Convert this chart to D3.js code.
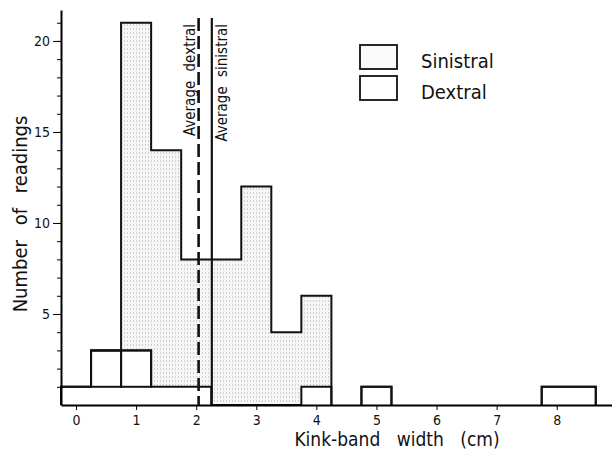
<!DOCTYPE html>
<html>
<head>
<meta charset="utf-8">
<script src="https://cdn.jsdelivr.net/npm/d3@7"></script>
<style>
  body { margin: 0; background: #fff; }
  svg { display: block; }
  text { font-family: "DejaVu Sans Condensed", "DejaVu Sans", sans-serif; fill: #111; }
</style>
</head>
<body>
<svg width="612" height="453"></svg>
<script>
// bins of kink-band width (cm)
const binStart = [-0.25, 0.25, 0.75, 1.25, 1.75, 2.25, 2.75, 3.25, 3.75, 4.75, 7.75];
const binEnd = [0.25, 0.75, 1.25, 1.75, 2.25, 2.75, 3.25, 3.75, 4.25, 5.25, 8.65];
const dextral = [1, 3, 3, 1, 1, 0, 0, 0, 1, 1, 1];
const sinistral = [0, 0, 18, 13, 7, 8, 12, 4, 5, 0, 0];
const avgDextral = 2.04;
const avgSinistral = 2.26;
const xTicks = [0, 1, 2, 3, 4, 5, 6, 7, 8];
const yTicks = [5, 10, 15, 20];
const legendLabels = ["Sinistral", "Dextral"];

let svg = d3.select("svg");

let x = d3.scaleLinear().domain([-0.25, 8.92]).range([61, 612]);
let y = d3.scaleLinear().domain([0, 21.7]).range([405, 10]);

// stipple for the sinistral part
let defs = svg.append("defs");
let pat = defs.append("pattern")
  .attr("id", "dots")
  .attr("width", 3)
  .attr("height", 4)
  .attr("patternUnits", "userSpaceOnUse");
pat.append("rect").attr("width", 3).attr("height", 4).attr("fill", "#f6f6f6");
pat.append("rect").attr("x", 1).attr("y", 0).attr("width", 1).attr("height", 2).attr("fill", "#cfcfcf");

let bins = binStart.map((s, i) => ({
  x0: s,
  x1: binEnd[i],
  d: dextral[i],
  t: dextral[i] + sinistral[i],
}));

// group contiguous bins so each group is one step outline
let groups = [];
bins.forEach((b) => {
  let last = groups[groups.length - 1];
  if (last && Math.abs(last[last.length - 1].x1 - b.x0) < 1e-9) last.push(b);
  else groups.push([b]);
});

function stepPoints(g, key) {
  let pts = [{ x: g[0].x0, lo: 0, v: 0 }];
  g.forEach((b) => pts.push({ x: b.x0, lo: b.d, v: b[key] }));
  pts.push({ x: g[g.length - 1].x1, lo: 0, v: 0 });
  return pts;
}

let area = d3.area()
  .curve(d3.curveStepAfter)
  .x((p) => x(p.x))
  .y0((p) => y(p.lo))
  .y1((p) => y(p.v));

let line = d3.line()
  .curve(d3.curveStepAfter)
  .x((p) => x(p.x))
  .y((p) => y(p.v));

let hist = svg.append("g");

groups.forEach((g) => {
  let tot = stepPoints(g, "t");
  hist.append("path").attr("d", area(tot)).attr("fill", "url(#dots)");
  let dex = stepPoints(g, "d").map((p) => ({ x: p.x, lo: 0, v: p.v }));
  hist.append("path").attr("d", area(dex)).attr("fill", "#fff");
  hist.append("path").attr("d", line(dex))
    .attr("fill", "none").attr("stroke", "#111").attr("stroke-width", 2);
  hist.append("path").attr("d", line(tot))
    .attr("fill", "none").attr("stroke", "#111").attr("stroke-width", 2);
});

// dextral bins above one reading are boxed on top of the first layer
hist.selectAll("rect.upper")
  .data(bins.filter((b) => b.d > 1))
  .join("rect")
  .attr("class", "upper")
  .attr("x", (b) => x(b.x0))
  .attr("y", (b) => y(b.d))
  .attr("width", (b) => x(b.x1) - x(b.x0))
  .attr("height", (b) => y(1) - y(b.d))
  .attr("fill", "none")
  .attr("stroke", "#111")
  .attr("stroke-width", 2);

// axes
let xAxis = svg.append("g")
  .attr("transform", "translate(0,405)")
  .call(d3.axisBottom(x).tickValues(xTicks).tickSize(5).tickSizeOuter(0).tickPadding(5));
xAxis.select(".domain").attr("stroke-width", 2);
xAxis.selectAll("text").attr("font-size", 14).style("font-family", "DejaVu Sans Condensed");

let yMinor = svg.append("g")
  .attr("transform", "translate(61,0)")
  .call(d3.axisLeft(y).tickValues(d3.range(1, 22)).tickSize(4).tickSizeOuter(0).tickFormat(""));
yMinor.select(".domain").attr("stroke-width", 2);

let yAxis = svg.append("g")
  .attr("transform", "translate(61,0)")
  .call(d3.axisLeft(y).tickValues(yTicks).tickSize(8).tickSizeOuter(0).tickPadding(3));
yAxis.select(".domain").remove();
yAxis.selectAll("text").attr("font-size", 14).style("font-family", "DejaVu Sans Condensed");

// average lines
svg.append("line")
  .attr("x1", x(avgDextral)).attr("x2", x(avgDextral))
  .attr("y1", 18).attr("y2", 405)
  .attr("stroke", "#111").attr("stroke-width", 2.6)
  .attr("stroke-dasharray", "13,5");
svg.append("line")
  .attr("x1", x(avgSinistral)).attr("x2", x(avgSinistral))
  .attr("y1", 18).attr("y2", 405)
  .attr("stroke", "#111").attr("stroke-width", 2.2);

svg.append("text")
  .attr("transform", `translate(${x(avgDextral) - 4},24) rotate(-90)`)
  .attr("text-anchor", "end")
  .attr("font-size", 15)
  .attr("word-spacing", 5)
  .text("Average dextral");
svg.append("text")
  .attr("transform", `translate(${x(avgSinistral) + 15},24) rotate(-90)`)
  .attr("text-anchor", "end")
  .attr("font-size", 15)
  .attr("word-spacing", 5)
  .text("Average sinistral");

// axis titles
svg.append("text")
  .attr("x", 397).attr("y", 446)
  .attr("text-anchor", "middle")
  .attr("font-size", 19)
  .attr("word-spacing", 11)
  .text("Kink-band width (cm)");
svg.append("text")
  .attr("transform", "translate(27,214) rotate(-90)")
  .attr("text-anchor", "middle")
  .attr("font-size", 20)
  .attr("word-spacing", 9)
  .text("Number of readings");

// legend
let leg = svg.append("g");
legendLabels.forEach((lab, i) => {
  let top = 45 + i * 31;
  leg.append("rect")
    .attr("x", 360).attr("y", top)
    .attr("width", 37).attr("height", 24)
    .attr("fill", i === 0 ? "#fbfbfb" : "#fff")
    .attr("stroke", "#111").attr("stroke-width", 1.8);
  leg.append("text")
    .attr("x", 421).attr("y", top + 23)
    .attr("font-size", 20)
    .text(lab);
});
</script>
</body>
</html>
